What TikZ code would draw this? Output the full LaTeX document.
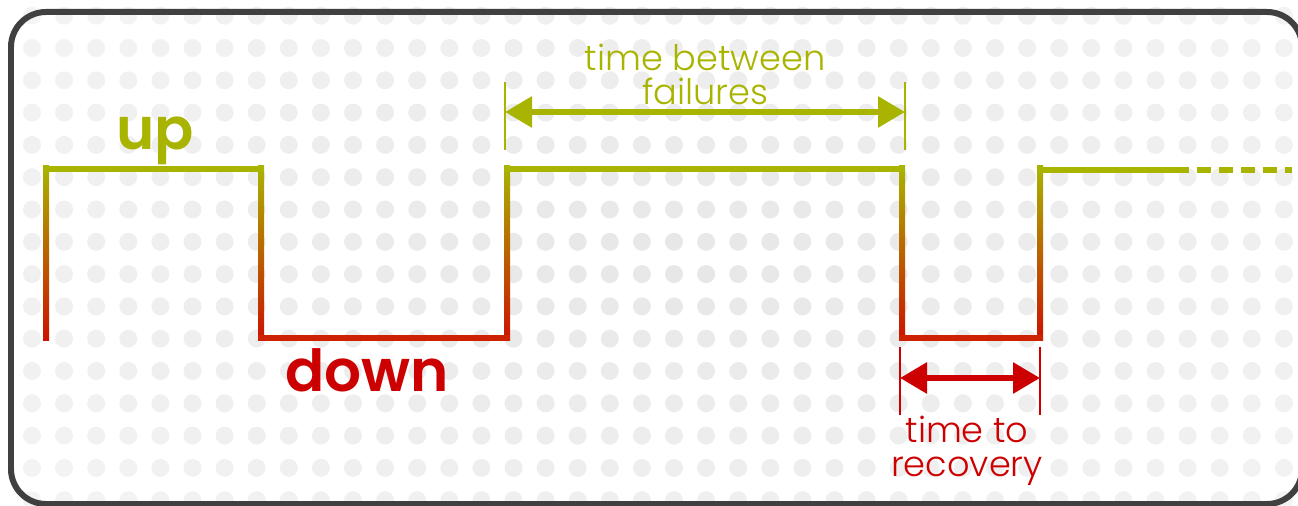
\documentclass[tikz,border=0pt]{standalone}
\usepackage{fontspec}
\setmainfont{Poppins}
\newfontfamily\lightfont{Poppins Light}
\newfontfamily\semifont{Poppins SemiBold}
\usetikzlibrary{arrows.meta}

\definecolor{upcol}{HTML}{A8B400}
\definecolor{midcol}{HTML}{BC7E00}
\definecolor{downcol}{HTML}{CC1100}
\definecolor{lowline}{HTML}{CC2200}
\definecolor{recred}{HTML}{CC0000}
\definecolor{framecol}{HTML}{404040}

\begin{document}
\begin{tikzpicture}[x=0.02cm, y=-0.02cm,
    wavetop/.style  ={draw=upcol, line width=0.12cm},
    wavelow/.style  ={draw=lowline, line width=0.12cm},
    riser/.style    ={top color=upcol, middle color=midcol, bottom color=downcol},
    span/.style     ={line width=0.12cm, {Triangle[length=0.54cm,width=0.6cm]}-{Triangle[length=0.54cm,width=0.6cm]}},
    spanend/.style  ={line width=0.05cm},
    statelab/.style ={font=\semifont\fontsize{33}{33}\selectfont, inner sep=0pt},
    spanlab/.style  ={font=\lightfont\fontsize{20}{19}\selectfont, align=center, inner sep=0pt}
  ]
    % page size = 1298 x 506 px, 1 px = 0.02cm
    \useasboundingbox (0,0) rectangle (1298,506);
    \clip (0,0) rectangle (1298,506);

    % dotted background, fading towards the frame
    \foreach \i in {0,...,39} {
      \foreach \j in {0,...,15} {
        \pgfmathsetmacro\dx{32+32.1*\i}
        \pgfmathsetmacro\dy{15.7+32.3*\j}
        \pgfmathsetmacro\dotshade{max(4, 9.5-4*sqrt(((\dx-680)/680)^2+((\dy-260)/300)^2))}
        \fill[black!\dotshade] (\dx,\dy) circle[radius=0.18cm];
      }
    }

    % frame
    \draw[framecol, line width=0.12cm, rounded corners=0.7cm] (11,12) rectangle (1302,504);

    % corners of the signal
    \coordinate (a0) at (46,338);  \coordinate (a1) at (46,169);
    \coordinate (b0) at (261,169); \coordinate (b1) at (261,338);
    \coordinate (c0) at (507,338); \coordinate (c1) at (507,169);
    \coordinate (d0) at (902,169); \coordinate (d1) at (902,338);
    \coordinate (e0) at (1040,338); \coordinate (e1) at (1040,170);
    \coordinate (f0) at (1175,170); \coordinate (f1) at (1292,170);

    % rising / falling edges
    \foreach \xe in {46,261,507,902,1040} {
      \shade[riser] (\xe-3,166) rectangle (\xe+3,341);
    }
    % up and down levels
    \draw[wavetop] ([xshift=-0.06cm]a1) -- ([xshift=0.06cm]b0);
    \draw[wavelow] ([xshift=-0.06cm]b1) -- ([xshift=0.06cm]c0);
    \draw[wavetop] ([xshift=-0.06cm]c1) -- ([xshift=0.06cm]d0);
    \draw[wavelow] ([xshift=-0.06cm]d1) -- ([xshift=0.06cm]e0);
    \draw[wavetop] ([xshift=-0.06cm]e1) -- (f0);
    \draw[wavetop, dash pattern=on 0.28cm off 0.16cm] (f0) -- (f1);

    % state labels
    \node[statelab, text=upcol, anchor=base] (uplab) at (155,150) {up};
    \node[statelab, text=recred, anchor=base] (downlab) at (367,392) {down};

    % time between failures
    \coordinate (tbfL) at (505,112); \coordinate (tbfR) at (905,112);
    \draw[spanend, upcol] (505,82) -- (505,150);
    \draw[spanend, upcol] (905,82) -- (905,150);
    \draw[span, upcol] (tbfL) -- (tbfR);
    \node[spanlab, text=upcol, anchor=north] (tbflab) at (705,44) {time between\\failures};

    % time to recovery
    \coordinate (ttrL) at (900,378); \coordinate (ttrR) at (1040,378);
    \draw[spanend, recred] (900,347) -- (900,415);
    \draw[spanend, recred] (1040,347) -- (1040,415);
    \draw[span, recred] (ttrL) -- (ttrR);
    \node[spanlab, text=recred, anchor=north] (ttrlab) at (967,416) {time to\\recovery};
\end{tikzpicture}
\end{document}
